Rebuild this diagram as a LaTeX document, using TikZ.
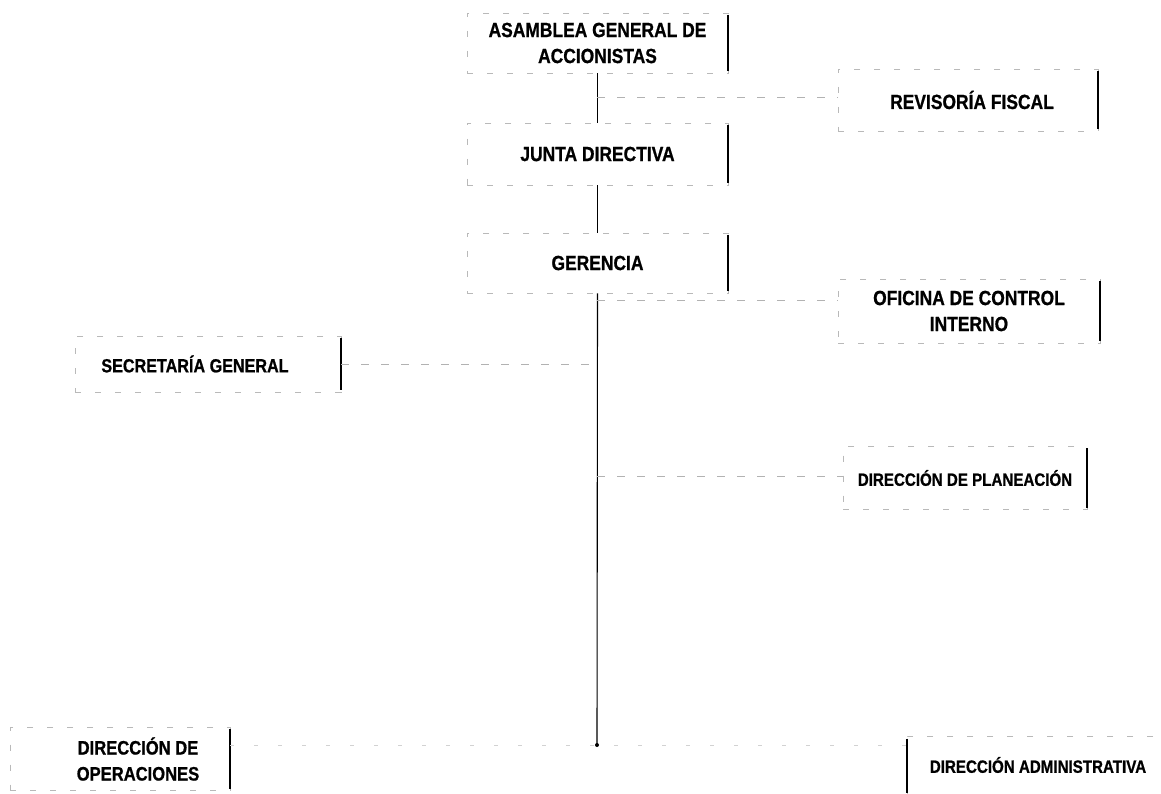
\documentclass[tikz,border=0pt]{standalone}
\usepackage{fontspec}
\setmainfont{Liberation Sans}[FakeStretch=0.85, BoldFeatures={FakeBold=0.8}]
\begin{document}
\begin{tikzpicture}[x=1pt,y=-1pt,
  box/.style={draw=gray!55, line width=0.6pt, dash pattern=on 6pt off 14pt,
    inner sep=0pt, align=center, font=\bfseries\fontsize{20.5}{26}\selectfont},
  small/.style={font=\bfseries\fontsize{17.8}{22}\selectfont},
  rbar/.style={draw=black, line width=1.8pt},
  spine/.style={draw=black, line width=1.1pt},
  faint/.style={draw=gray!60, line width=0.7pt, dash pattern=on 8pt off 12pt}]
\useasboundingbox (0,0) rectangle (1161,794);
\fill[white] (0,0) rectangle (1161,794);

% boxes
\node[box, minimum width=261pt, minimum height=60pt] (asam) at (597.5,43) {ASAMBLEA GENERAL DE\\ACCIONISTAS};
\node[box, minimum width=260pt, minimum height=62pt] (revi) at (968,100) {\hspace*{8pt}REVISORÍA FISCAL};
\node[box, minimum width=261pt, minimum height=62pt] (junta) at (597.5,154) {JUNTA DIRECTIVA};
\node[box, minimum width=261pt, minimum height=60pt] (ger) at (597.5,263) {GERENCIA};
\node[box, minimum width=262pt, minimum height=64pt] (ofi) at (969,311) {OFICINA DE CONTROL\\INTERNO};
\node[box, minimum width=266pt, minimum height=56pt, font=\bfseries\fontsize{19}{24}\selectfont] (secr) at (208,364) {SECRETARÍA GENERAL\hspace*{26pt}};
\node[box, small, minimum width=244pt, minimum height=63pt] (plan) at (965,478) {DIRECCIÓN DE PLANEACIÓN};
\node[box, minimum width=220pt, minimum height=63pt, font=\bfseries\fontsize{19.5}{26}\selectfont] (oper) at (120,759) {\hspace*{36pt}DIRECCIÓN DE\\\hspace*{36pt}OPERACIONES};
\node[box, small, minimum width=254pt, minimum height=58pt] (admin) at (1034,765) {\hspace*{8pt}DIRECCIÓN ADMINISTRATIVA};

% solid right edges
\foreach \n in {asam,revi,junta,ger,ofi,secr,plan,oper}
  \draw[rbar] ([yshift=-2pt]\n.north east) -- ([yshift=2pt]\n.south east);
\draw[rbar] ([yshift=-3pt]admin.north west) -- ([yshift=1pt]admin.south west);

% connectors
\coordinate (s1) at (597,97);
\coordinate (s2) at (597,300);
\coordinate (s3) at (597,364);
\coordinate (s4) at (597,476);
\coordinate (bus) at (597,745);

\draw[spine] (asam.south) -- (junta.north);
\draw[spine] (junta.south) -- (ger.north);
\draw[spine] (ger.south) -- (bus);
\fill (bus) circle (2pt);
\draw[faint] (s1) -- (s1 -| revi.west);
\draw[faint] (s2) -- (s2 -| ofi.west);
\draw[faint] (secr.east) -- (s3);
\draw[faint] (s4) -- (s4 -| plan.west);
\draw[draw=gray!35, line width=0.6pt, dash pattern=on 4pt off 20pt] (oper.east |- bus) -- (admin.west |- bus);
\end{tikzpicture}
\end{document}
